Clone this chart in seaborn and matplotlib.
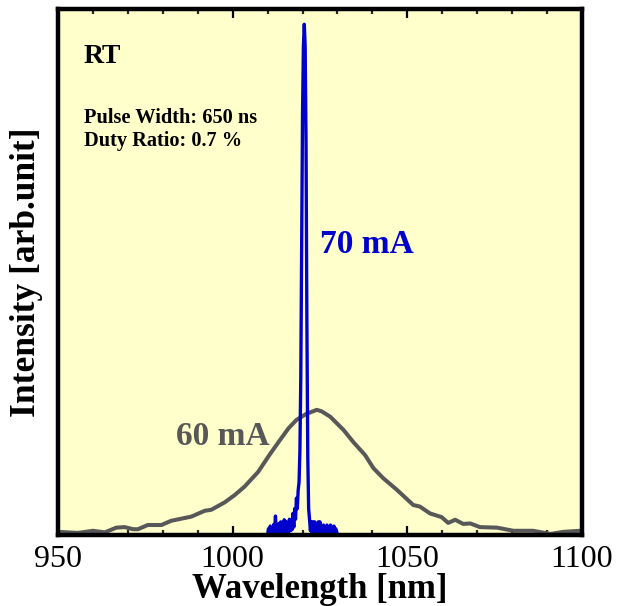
import matplotlib
matplotlib.use("Agg")
import matplotlib.pyplot as plt
from matplotlib.ticker import MultipleLocator
import seaborn as sns
import pandas as pd

# ---- data ----
wl_60 = [950, 955.7, 960, 963.4, 966.7, 969.1, 971.5, 972.9, 975.7, 979.6, 982.4, 985.3,
         988.2, 992, 993.9, 997.7, 1000.6, 1003.4, 1007.3, 1010.5, 1013.6, 1016, 1018.3,
         1021, 1024.1, 1025.5, 1027.9, 1031.7, 1034.5, 1037.9, 1040.3, 1043.1, 1047,
         1051.7, 1053.6, 1056.5, 1059.8, 1061.7, 1063.7, 1066, 1068, 1070.8, 1075.6,
         1080.4, 1086, 1091, 1094.7, 1099.5]
int_60 = [0.006, 0.004, 0.008, 0.005, 0.014, 0.015, 0.011, 0.011, 0.019, 0.019, 0.027, 0.031,
          0.035, 0.046, 0.048, 0.062, 0.076, 0.092, 0.120, 0.152, 0.181, 0.203, 0.219,
          0.230, 0.238, 0.235, 0.225, 0.200, 0.177, 0.152, 0.127, 0.108, 0.086,
          0.057, 0.054, 0.041, 0.034, 0.023, 0.029, 0.021, 0.022, 0.015, 0.014,
          0.008, 0.008, 0.002, 0.006, 0.008]

wl_70 = [1010.00, 1010.25, 1010.50, 1010.75, 1011.00, 1011.25, 1011.50, 1011.75,
         1012.00, 1012.25, 1012.50, 1012.75, 1013.00, 1013.25, 1013.50, 1013.75,
         1014.00, 1014.25, 1014.50, 1014.75, 1015.00, 1015.25, 1015.50, 1015.75,
         1016.00, 1016.25, 1016.50, 1016.75, 1017.00, 1017.25, 1017.50, 1017.75,
         1018.00, 1018.25, 1018.50, 1018.75, 1019.00, 1019.25, 1019.50, 1019.75,
         1020.00, 1020.25, 1020.50, 1020.75, 1021.00, 1021.25, 1021.50, 1021.75,
         1022.00, 1022.25, 1022.50, 1022.75, 1023.00, 1023.25, 1023.50, 1023.75,
         1024.00, 1024.25, 1024.50, 1024.75, 1025.00, 1025.25, 1025.50, 1025.75,
         1026.00, 1026.25, 1026.50, 1026.75, 1027.00, 1027.25, 1027.50, 1027.75,
         1028.00, 1028.25, 1028.50, 1028.75, 1029.00, 1029.25, 1029.50, 1029.75,
         1030.00]
int_70 = [0.0, 0.012, 0.004, 0.017, 0.003, 0.012, 0.005, 0.020,
          0.004, 0.036, 0.005, 0.016, 0.004, 0.022, 0.006, 0.025,
          0.005, 0.020, 0.006, 0.029, 0.005, 0.026, 0.008, 0.023,
          0.006, 0.030, 0.008, 0.028, 0.010, 0.041, 0.015, 0.050,
          0.030, 0.070, 0.050, 0.085, 0.10, 0.16, 0.30, 0.55,
          0.80, 0.93, 0.971, 0.93, 0.75, 0.40, 0.15, 0.05,
          0.03, 0.008, 0.025, 0.005, 0.025, 0.006, 0.025, 0.005,
          0.016, 0.004, 0.025, 0.006, 0.025, 0.005, 0.016, 0.004,
          0.019, 0.005, 0.016, 0.004, 0.019, 0.005, 0.012, 0.004,
          0.019, 0.005, 0.016, 0.004, 0.017, 0.005, 0.012, 0.006,
          0.0]

x_ticks = [950, 1000, 1050, 1100]
x_label = "Wavelength [nm]"
y_label = "Intensity [arb.unit]"
label_60 = "60 mA"
label_70 = "70 mA"

df60 = pd.DataFrame({"wl": wl_60, "I": int_60})
df70 = pd.DataFrame({"wl": wl_70, "I": int_70})

sns.set_theme(style="ticks")
plt.rcParams["font.family"] = ["Liberation Serif", "DejaVu Serif"]

fig = plt.figure(figsize=(6.18, 6.06), dpi=100)
ax = fig.add_axes([58 / 618, 1 - 535 / 606, 524 / 618, 526 / 606])
ax.set_facecolor("#FFFFCC")

grey = "#585858"
blue = "#0000CC"
sns.lineplot(data=df60, x="wl", y="I", ax=ax, color=grey, linewidth=2.9, sort=False)
sns.lineplot(data=df70, x="wl", y="I", ax=ax, color=blue, linewidth=2.4, sort=False)

ax.set_xlim(950, 1100)
ax.set_ylim(0, 1.0)
ax.set_xticks(x_ticks)
ax.xaxis.set_minor_locator(MultipleLocator(10))
ax.set_yticks([])
ax.tick_params(axis="x", which="major", direction="in", length=6.5, width=1.6,
               top=True, bottom=True, labelsize=23, pad=7, colors="black")
ax.tick_params(axis="x", which="minor", direction="in", length=3.8, width=1.6,
               top=True, bottom=True)
for lab in ax.get_xticklabels():
    lab.set_color("black")

for s in ax.spines.values():
    s.set_linewidth(3.2)
    s.set_color("black")
    s.set_visible(True)

ax.set_xlabel(x_label, fontsize=25, fontweight="bold", color="black")
ax.set_ylabel(y_label, fontsize=25.5, fontweight="bold", color="black")
ax.xaxis.set_label_coords(0.5, -0.073)
ax.yaxis.set_label_coords(-0.028, 0.5)

ax.text(84 / 618, 1 - 63 / 606, "RT", transform=fig.transFigure, fontsize=20,
        fontweight="bold", color="black", va="baseline", ha="left")
ax.text(84 / 618, 1 - 122.7 / 606, "Pulse Width: 650 ns", transform=fig.transFigure,
        fontsize=14.7, fontweight="bold", color="black", va="baseline", ha="left")
ax.text(84 / 618, 1 - 146 / 606, "Duty Ratio: 0.7 %", transform=fig.transFigure,
        fontsize=14.7, fontweight="bold", color="black", va="baseline", ha="left")
ax.text(320 / 618, 1 - 253 / 606, label_70, transform=fig.transFigure, fontsize=24,
        fontweight="bold", color=blue, va="baseline", ha="left")
ax.text(176 / 618, 1 - 445 / 606, label_60, transform=fig.transFigure, fontsize=24,
        fontweight="bold", color=grey, va="baseline", ha="left")

fig.savefig("out.png", dpi=100, facecolor="white")
